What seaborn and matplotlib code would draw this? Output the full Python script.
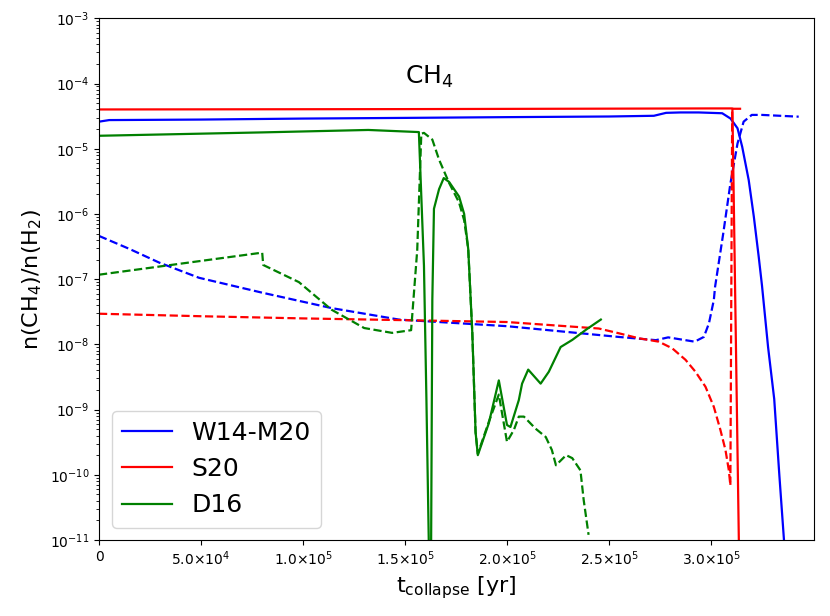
import numpy as np
import pandas as pd
import matplotlib
matplotlib.use("Agg")
import matplotlib.pyplot as plt
import seaborn as sns
from matplotlib.ticker import FuncFormatter, LogLocator, NullFormatter
from matplotlib.lines import Line2D

# ---------------- data ----------------
labels = ["W14-M20", "S20", "D16"]
colors = ["blue", "red", "green"]

w14_t_solid = [0, 5e3, 5e4, 1.0e5, 1.5e5, 2.0e5, 2.5e5, 2.72e5, 2.78e5, 2.85e5, 2.94e5,
               3.055e5, 3.096e5, 3.13e5, 3.153e5, 3.185e5, 3.21e5, 3.234e5, 3.25e5, 3.28e5,
               3.31e5, 3.335e5, 3.36e5]
w14_y_solid = [2.6e-5, 2.75e-5, 2.8e-5, 2.9e-5, 2.97e-5, 3.05e-5, 3.12e-5, 3.2e-5, 3.55e-5,
               3.6e-5, 3.6e-5, 3.5e-5, 2.9e-5, 2.06e-5, 1.07e-5, 3.3e-6, 9.1e-7, 2.2e-7, 8e-8,
               9e-9, 1.45e-9, 1e-10, 8e-12]

w14_t_dash = [0, 1.5e4, 2.94e4, 4.9e4, 8e4, 1.14e5, 1.47e5, 2.0e5, 2.548e5, 2.73e5, 2.79e5,
              2.92e5, 2.965e5, 2.99e5, 3.014e5, 3.02e5, 3.06e5, 3.095e5, 3.13e5, 3.16e5, 3.2e5,
              3.25e5, 3.43e5]
w14_y_dash = [4.6e-7, 2.9e-7, 1.8e-7, 1.05e-7, 6.2e-8, 3.6e-8, 2.4e-8, 1.9e-8, 1.3e-8, 1.16e-8,
              1.28e-8, 1.1e-8, 1.3e-8, 2.1e-8, 4.8e-8, 7.6e-8, 5e-7, 2.9e-6, 1.2e-5, 2.6e-5,
              3.3e-5, 3.3e-5, 3.1e-5]

s20_t_solid = [0, 1.5e5, 3.0e5, 3.105e5, 3.137e5]
s20_y_solid = [4.0e-5, 4.05e-5, 4.15e-5, 4.15e-5, 8e-12]

s20_t_dash = [0, 5e4, 1.0e5, 1.5e5, 2.0e5, 2.45e5, 2.548e5, 2.646e5, 2.744e5, 2.81e5, 2.875e5,
              2.924e5, 2.973e5, 3.014e5, 3.046e5, 3.071e5, 3.087e5, 3.095e5, 3.104e5, 3.165e5]
s20_y_dash = [2.95e-8, 2.7e-8, 2.5e-8, 2.35e-8, 2.2e-8, 1.75e-8, 1.48e-8, 1.24e-8, 1.1e-8,
              8.7e-9, 5.8e-9, 3.8e-9, 2.24e-9, 1.1e-9, 4.9e-10, 2.4e-10, 1.2e-10, 6.9e-11,
              4.1e-5, 4.1e-5]

d16_t_solid = [0, 8e4, 1.32e5, 1.568e5, 1.593e5, 1.605e5, 1.617e5, 1.625e5, 1.634e5, 1.642e5,
               1.667e5, 1.69e5, 1.716e5, 1.765e5, 1.79e5, 1.81e5, 1.83e5, 1.846e5, 1.857e5,
               1.911e5, 1.96e5, 2.0e5, 2.017e5, 2.058e5, 2.074e5, 2.104e5, 2.165e5, 2.205e5,
               2.263e5, 2.32e5, 2.39e5, 2.46e5]
d16_y_solid = [1.58e-5, 1.78e-5, 1.94e-5, 1.8e-5, 1.6e-7, 1.45e-9, 8e-12, 1e-13, 4.8e-8, 1.2e-6,
               2.4e-6, 3.55e-6, 3.1e-6, 1.85e-6, 1.0e-6, 2.9e-7, 1.5e-8, 4.5e-10, 2.0e-10,
               6.2e-10, 2.8e-9, 5.8e-10, 5.4e-10, 1.4e-9, 2.5e-9, 4.1e-9, 2.5e-9, 3.8e-9,
               9.1e-9, 1.17e-8, 1.7e-8, 2.4e-8]

d16_t_dash = [0, 8.0e4, 8.05e4, 9.8e4, 1.14e5, 1.3e5, 1.437e5, 1.53e5, 1.56e5, 1.58e5, 1.593e5,
              1.634e5, 1.667e5, 1.716e5, 1.765e5, 1.79e5, 1.81e5, 1.83e5, 1.846e5, 1.857e5,
              1.911e5, 1.96e5, 2.0e5, 2.034e5, 2.058e5, 2.083e5, 2.14e5, 2.19e5, 2.22e5,
              2.24e5, 2.29e5, 2.32e5, 2.36e5, 2.376e5, 2.40e5]
d16_y_dash = [1.17e-7, 2.55e-7, 1.65e-7, 9e-8, 3.4e-8, 1.78e-8, 1.5e-8, 1.65e-8, 2.8e-7, 1.7e-5,
              1.75e-5, 1.38e-5, 6.8e-6, 3.0e-6, 1.5e-6, 8e-7, 2.9e-7, 1.5e-8, 4.5e-10, 2.1e-10,
              6.5e-10, 1.7e-9, 3.2e-10, 4.9e-10, 7.8e-10, 7.8e-10, 5.1e-10, 3.8e-10, 2.4e-10,
              1.4e-10, 2.0e-10, 1.8e-10, 1.17e-10, 4.1e-11, 1.2e-11]

x_ticks = [0, 5e4, 1.0e5, 1.5e5, 2.0e5, 2.5e5, 3.0e5]

series = [
    (labels[0], colors[0], "-", w14_t_solid, w14_y_solid),
    (labels[0], colors[0], "--", w14_t_dash, w14_y_dash),
    (labels[1], colors[1], "-", s20_t_solid, s20_y_solid),
    (labels[1], colors[1], "--", s20_t_dash, s20_y_dash),
    (labels[2], colors[2], "-", d16_t_solid, d16_y_solid),
    (labels[2], colors[2], "--", d16_t_dash, d16_y_dash),
]

# ---------------- plot ----------------
fig = plt.figure(figsize=(8.3, 6.16), dpi=100)
ax = fig.add_axes([99 / 830, 1 - 540 / 616, (814 - 99) / 830, (540 - 18.3) / 616])

for name, col, ls, t, y in series:
    df = pd.DataFrame({"t": t, "y": y})
    sns.lineplot(data=df, x="t", y="y", ax=ax, color=col, linestyle=ls, lw=1.6,
                 sort=False, estimator=None, legend=False)

ax.set_yscale("log")
ax.set_ylim(1e-11, 1e-3)
ax.set_xlim(0, 3.505e5)

ax.yaxis.set_major_locator(LogLocator(base=10, numticks=20))
ax.yaxis.set_minor_locator(LogLocator(base=10, subs=np.arange(2, 10), numticks=200))
ax.yaxis.set_minor_formatter(NullFormatter())


def xfmt(v, pos):
    if v == 0:
        return "0"
    e = int(np.floor(np.log10(abs(v))))
    m = v / 10 ** e
    return r"$%.1f{\times}10^{%d}$" % (m, e)


ax.set_xticks(x_ticks)
ax.xaxis.set_major_formatter(FuncFormatter(xfmt))
ax.tick_params(labelsize=10)

ax.set_xlabel(r"t$_{\rm collapse}$ [yr]", fontsize=16)
ax.set_ylabel(r"n(CH$_4$)/n(H$_2$)", fontsize=16)
ax.text(1.5e5, 1e-4, r"CH$_4$", fontsize=18)

handles = [Line2D([0], [0], color=c, lw=1.6) for c in colors]
ax.legend(handles, labels, loc="lower left", fontsize=18)

fig.savefig("out.png", dpi=100)
